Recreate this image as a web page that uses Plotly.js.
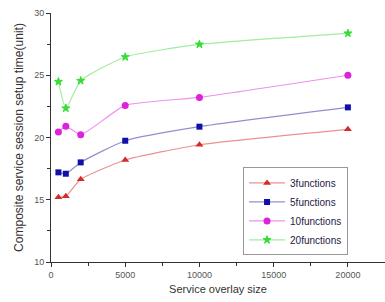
<!DOCTYPE html>
<html><head><meta charset="utf-8">
<script src="https://cdn.plot.ly/plotly-3.0.1.min.js"></script>
<style>html,body{margin:0;padding:0;background:#fff}#c{width:385px;height:302px}</style>
</head><body><div id="c"></div>
<script>
const sizes = [500, 1000, 2000, 5000, 10000, 20000];
const f3 = [15.2, 15.28, 16.64, 18.19, 19.42, 20.66];
const f5 = [17.2, 17.09, 18.0, 19.74, 20.87, 22.42];
const f10 = [20.44, 20.9, 20.23, 22.58, 23.22, 25.0];
const f20 = [24.48, 22.35, 24.56, 26.47, 27.48, 28.37];
const names = ['3functions', '5functions', '10functions', '20functions'];
const xTickVals = [0, 5000, 10000, 15000, 20000];
const xTickText = ['0', '5000', '10000', '15000', '20000'];
const yTickVals = [10, 15, 20, 25, 30];

const series = [f3, f5, f10, f20];
const markerColors = ['#d42a2a', '#1010a8', '#dd22dd', '#33dd33'];
const lineColors = ['#ee9090', '#9090d0', '#ee90ee', '#a0eea0'];
const symbols = ['triangle-up', 'square', 'circle', 'star'];
const msizes = [7, 6, 7, 6];

const traces = series.map((s, i) => ({
  x: sizes, y: s, name: names[i], type: 'scatter', mode: 'lines+markers',
  line: {color: lineColors[i], width: 1.2, shape: 'spline', smoothing: 0.5},
  marker: {color: markerColors[i], symbol: symbols[i], size: msizes[i],
    line: {color: markerColors[i], width: i === 3 ? 1 : 0}}
}));

const layout = {
  width: 385, height: 302,
  margin: {l: 51, r: 0, t: 13, b: 40},
  paper_bgcolor: '#fff', plot_bgcolor: '#fff',
  font: {family: 'Liberation Sans, Arial, sans-serif', color: '#333'},
  showlegend: true,
  legend: {x: 0.575, y: 0.38, xanchor: 'left', yanchor: 'top',
    bordercolor: '#999', borderwidth: 1, bgcolor: '#fff',
    font: {size: 10, color: '#222244'}, tracegroupgap: 0, itemwidth: 36},
  xaxis: {
    range: [0, 22500], showgrid: false, zeroline: false,
    showline: true, linecolor: '#333', linewidth: 1,
    ticks: 'outside', ticklen: 4, tickcolor: '#333',
    tickvals: xTickVals, ticktext: xTickText,
    tickfont: {size: 9, color: '#555'},
    minor: {ticks: 'outside', ticklen: 3, tickcolor: '#333', tickvals: [2500, 7500, 12500, 17500, 22500]},
    title: {text: 'Service overlay size', font: {size: 11, color: '#333'}, standoff: 6}
  },
  yaxis: {
    range: [10, 30], showgrid: false, zeroline: false,
    showline: true, linecolor: '#333', linewidth: 1,
    ticks: 'outside', ticklen: 4, tickcolor: '#333',
    tickvals: yTickVals,
    tickfont: {size: 9, color: '#555'},
    minor: {ticks: 'outside', ticklen: 3, tickcolor: '#333', tickvals: [12.5, 17.5, 22.5, 27.5]},
    title: {text: 'Composite service session setup time(unit)', font: {size: 12, color: '#333'}, standoff: 7}
  }
};
Plotly.newPlot('c', traces, layout, {displayModeBar: false, staticPlot: true});
</script></body></html>
